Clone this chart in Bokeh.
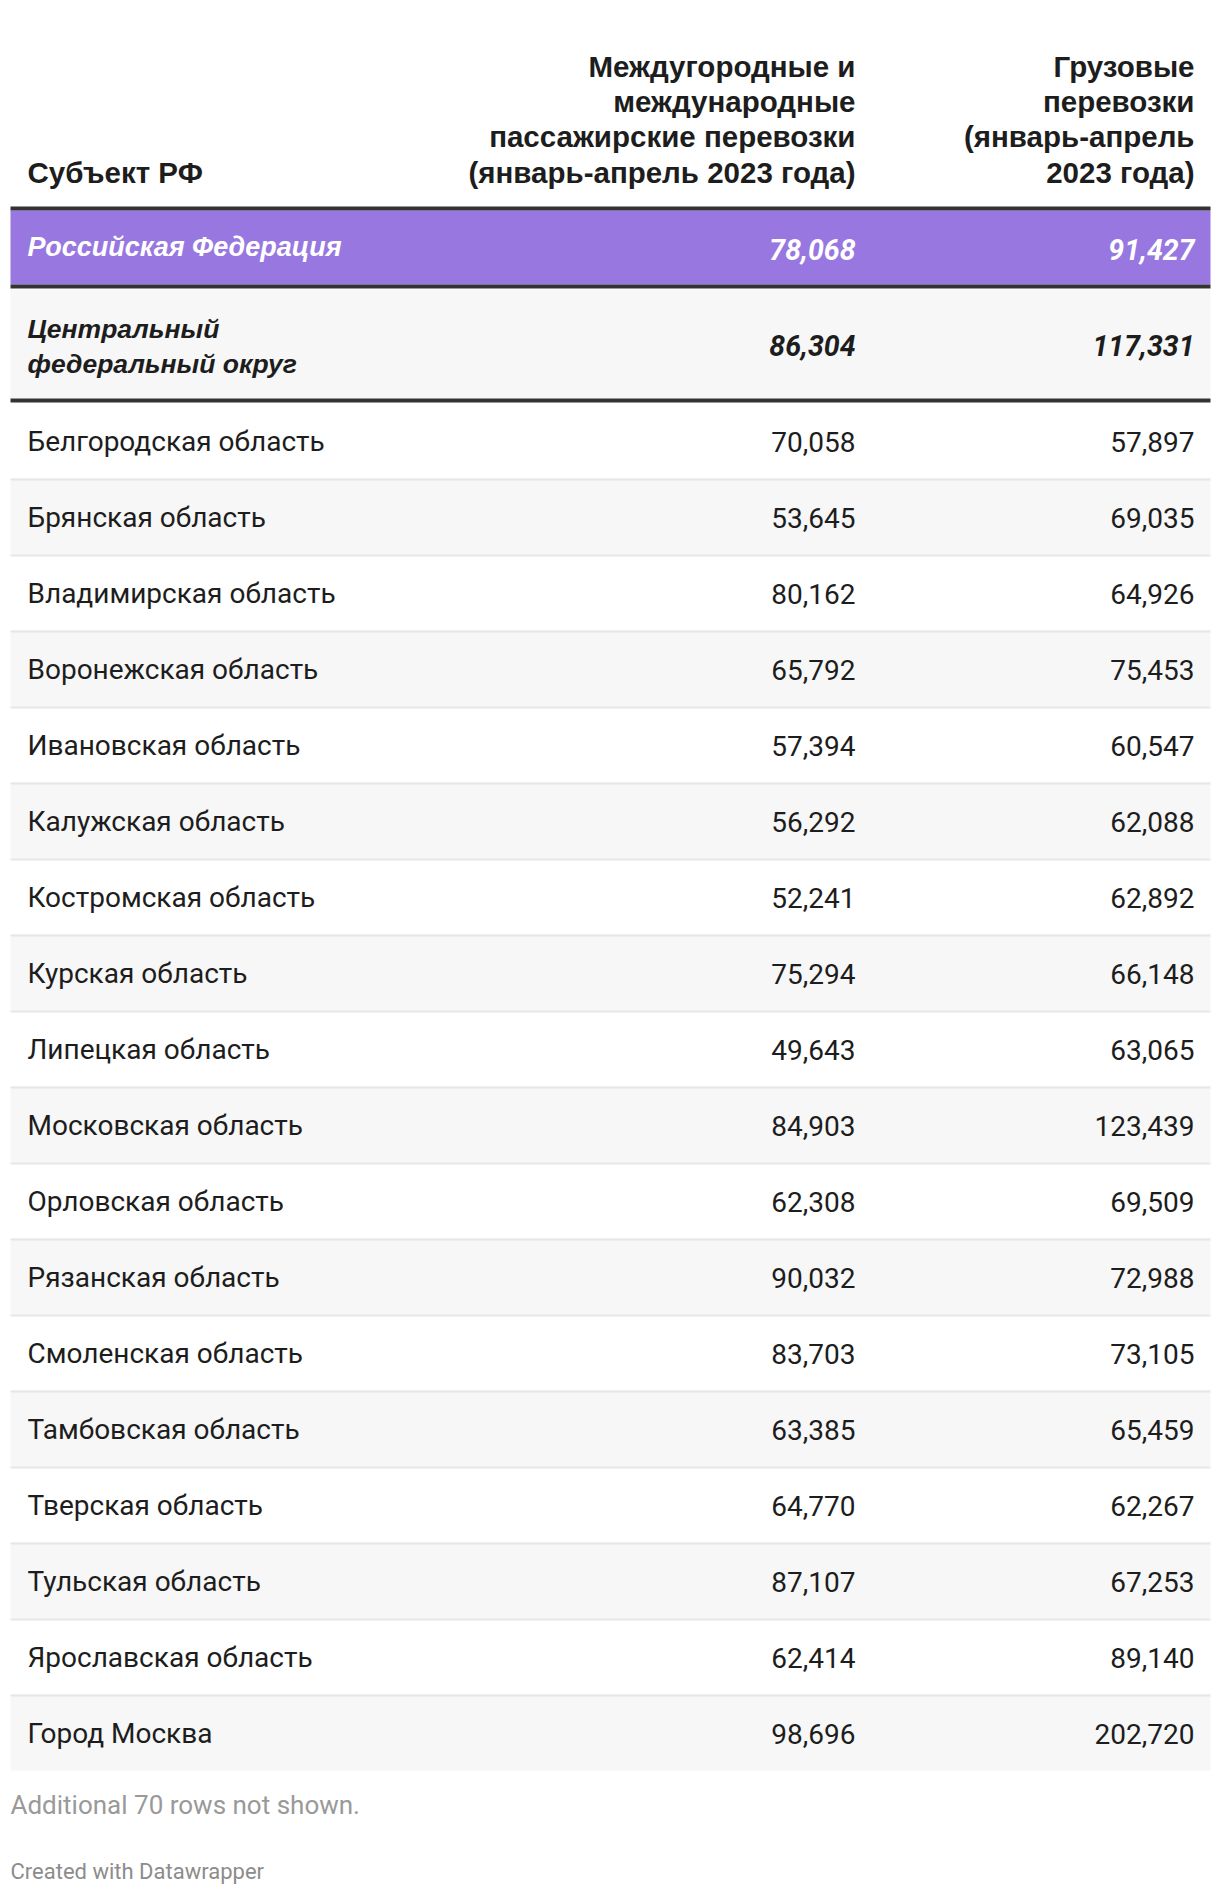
from bokeh.plotting import figure
from bokeh.models import Range1d, ColumnDataSource
from bokeh.core.properties import value
from bokeh.embed import file_html
from bokeh.resources import INLINE

# ---------------- data ----------------
header_region = "Субъект РФ"
header_col1 = ["Междугородные и", "международные", "пассажирские перевозки", "(январь-апрель 2023 года)"]
header_col2 = ["Грузовые", "перевозки", "(январь-апрель", "2023 года)"]

total_label = "Российская Федерация"
total_passenger = 78068
total_cargo = 91427

district_label = ["Центральный", "федеральный округ"]
district_passenger = 86304
district_cargo = 117331

regions = [
    "Белгородская область", "Брянская область", "Владимирская область",
    "Воронежская область", "Ивановская область", "Калужская область",
    "Костромская область", "Курская область", "Липецкая область",
    "Московская область", "Орловская область", "Рязанская область",
    "Смоленская область", "Тамбовская область", "Тверская область",
    "Тульская область", "Ярославская область", "Город Москва",
]
passenger = [70058, 53645, 80162, 65792, 57394, 56292, 52241, 75294, 49643,
             84903, 62308, 90032, 83703, 63385, 64770, 87107, 62414, 98696]
cargo = [57897, 69035, 64926, 75453, 60547, 62088, 62892, 66148, 63065,
         123439, 69509, 72988, 73105, 65459, 62267, 67253, 89140, 202720]

note_text = "Additional 70 rows not shown."
credit_text = "Created with Datawrapper"

# ---------------- layout ----------------
W, H = 1220, 1892
LEFT, RIGHT = 10, 1210
X_LABEL, X_COL1, X_COL2 = 27, 855, 1194
ROW_TOP0, ROW_H = 402, 76
DY = -9  # text baseline correction

fmt = lambda v: f"{v:,}"

p = figure(width=W, height=H, x_range=Range1d(0, W), y_range=Range1d(H, 0),
           output_backend="svg", toolbar_location=None, min_border=0)
p.axis.visible = False
p.grid.visible = False
p.outline_line_color = None
p.background_fill_color = "white"
p.border_fill_color = "white"

# backgrounds
n = len(regions)
tops = [ROW_TOP0 + ROW_H * i for i in range(n)]
bots = [t + ROW_H for t in tops]
fills = ["#ffffff" if i % 2 == 0 else "#f7f7f7" for i in range(n)]
p.quad(left=[LEFT] * n, right=[RIGHT] * n, top=tops, bottom=bots,
       fill_color=fills, line_color=None)
# separators
sep_t = tops[1:]
p.quad(left=[LEFT] * len(sep_t), right=[RIGHT] * len(sep_t), top=sep_t,
       bottom=[t + 2 for t in sep_t], fill_color="#e6e6e6", line_color=None)

# highlighted rows
p.quad(left=[LEFT], right=[RIGHT], top=[210], bottom=[284], fill_color="#9878e0", line_color=None)
p.quad(left=[LEFT], right=[RIGHT], top=[289], bottom=[398], fill_color="#f7f7f7", line_color=None)
# thick rules
p.quad(left=[LEFT] * 3, right=[RIGHT] * 3, top=[206, 284, 398], bottom=[210, 288, 402],
       fill_color="#333333", line_color=None)

HEAD_FONT = value("Liberation Sans")
BODY_FONT = value("Roboto")

# header
hb = [75 + DY, 110 + DY, 145 + DY, 181 + DY]
p.text(x=[X_LABEL], y=[181 + DY], text=[header_region], text_font=HEAD_FONT, text_font_size="29.5px",
       text_font_style="bold", text_color="#1d1d1d", text_align="left", text_baseline="alphabetic")
p.text(x=[X_COL1] * 4, y=hb, text=header_col1, text_font=HEAD_FONT, text_font_size="29.5px",
       text_font_style="bold", text_color="#1d1d1d", text_align="right", text_baseline="alphabetic")
p.text(x=[X_COL2] * 4, y=hb, text=header_col2, text_font=HEAD_FONT, text_font_size="29.5px",
       text_font_style="bold", text_color="#1d1d1d", text_align="right", text_baseline="alphabetic")

# total row
p.text(x=[X_LABEL], y=[255 + DY], text=[total_label], text_font=HEAD_FONT, text_font_size="27px",
       text_font_style="bold italic", text_color="white", text_align="left", text_baseline="alphabetic")
p.text(x=[X_COL1, X_COL2], y=[258 + DY, 258 + DY], text=[fmt(total_passenger), fmt(total_cargo)],
       text_font=BODY_FONT, text_font_size="28.5px", text_font_style="bold italic",
       text_color="white", text_align="right", text_baseline="alphabetic")

# district row
p.text(x=[X_LABEL] * 2, y=[337 + DY, 372 + DY], text=district_label, text_font=HEAD_FONT,
       text_font_size="26.5px", text_font_style="bold italic", text_color="#1d1d1d",
       text_align="left", text_baseline="alphabetic")
p.text(x=[X_COL1, X_COL2], y=[354 + DY, 354 + DY], text=[fmt(district_passenger), fmt(district_cargo)],
       text_font=BODY_FONT, text_font_size="28.5px", text_font_style="bold italic",
       text_color="#1d1d1d", text_align="right", text_baseline="alphabetic")

# body rows
src = ColumnDataSource(dict(
    y=[t + 48 + DY for t in tops],
    name=regions,
    pas=[fmt(v) for v in passenger],
    car=[fmt(v) for v in cargo],
    xl=[X_LABEL] * n, x1=[X_COL1] * n, x2=[X_COL2] * n,
))
common = dict(text_font=BODY_FONT, text_font_size="28px", text_color="#1d1d1d",
              text_baseline="alphabetic", source=src)
p.text(x="xl", y="y", text="name", text_align="left", **common)
p.text(x="x1", y="y", text="pas", text_align="right", **common)
p.text(x="x2", y="y", text="car", text_align="right", **common)

# footer
p.text(x=[10], y=[1813 + DY], text=[note_text], text_font=BODY_FONT, text_font_size="26px",
       text_color="#999999", text_align="left", text_baseline="alphabetic")
p.text(x=[10], y=[1880 + DY], text=[credit_text], text_font=BODY_FONT, text_font_size="22px",
       text_color="#8c8c8c", text_align="left", text_baseline="alphabetic")

open("out.html", "w").write(file_html(p, INLINE))
